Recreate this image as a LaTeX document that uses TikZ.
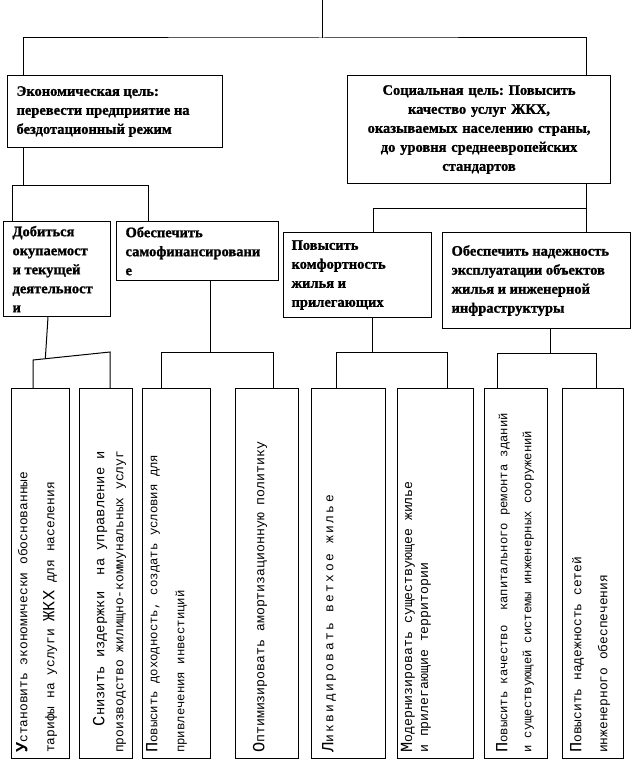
\documentclass[tikz,border=0pt]{standalone}
\usepackage{fontspec}
\setmainfont{Liberation Serif}[BoldFeatures={FakeBold=1.2}]
\newfontfamily\monofont{Liberation Mono}
\usetikzlibrary{calc, positioning}
\frenchspacing

\tikzset{
  goal/.style={draw, line width=1.1pt, anchor=north west, inner xsep=9pt, inner ysep=0pt,
    font=\fontsize{14.5}{19}\selectfont\bfseries, align=flush left},
  leaf/.style={draw, line width=1.1pt, anchor=north west, inner sep=0pt, minimum height=370pt},
  leaftext/.style 2 args={rotate=90, anchor=west, inner sep=0pt, align=left,
    font=\monofont\fontsize{#1}{#2}\selectfont},
  link/.style={line width=1pt},
}
\newcommand{\initl}[1]{{\fontsize{17}{17}\selectfont #1}}

\begin{document}
\begin{tikzpicture}[x=1pt, y=-1pt]
    \useasboundingbox (0,0) rectangle (633,762);

    % Цели верхнего уровня
    \node[goal, text width=197pt, minimum height=72pt] (econ) at (7,75)
        {Экономическая цель:\\перевести предприятие на\\бездотационный режим};
    \node[goal, text width=245pt, minimum height=108pt, align=center] (soc) at (347,75)
        {Социальная цель: Повысить\\качество услуг ЖКХ,\\оказываемых населению страны,\\до уровня среднеевропейских\\стандартов};

    % Задачи второго уровня
    \node[goal, text width=89pt, minimum height=95pt] (dob) at (3,221)
        {Добиться\\окупаемост\\и текущей\\деятельност\\и};
    \node[goal, text width=144pt, minimum height=59pt] (samo) at (116,221)
        {Обеспечить\\самофинансировани\\е};
    \node[goal, text width=132pt, minimum height=85pt, inner xsep=8pt] (kom) at (283,232)
        {Повысить\\комфортность\\жилья и\\прилегающих};
    \node[goal, text width=170pt, minimum height=96pt] (nad) at (442,232)
        {Обеспечить надежность\\эксплуатации объектов\\жилья и инженерной\\инфраструктуры\\[6pt]};

    % Мероприятия
    \node[leaf, minimum width=58pt] (c1) at (11,388) {};
    \node[leaf, minimum width=53pt] (c2) at (79,388) {};
    \node[leaf, minimum width=68pt] (c3) at (142,388) {};
    \node[leaf, minimum width=63pt] (c4) at (235,388) {};
    \node[leaf, minimum width=74pt] (c5) at (311,388) {};
    \node[leaf, minimum width=76pt] (c6) at (397,388) {};
    \node[leaf, minimum width=63pt] (c7) at (484,388) {};
    \node[leaf, minimum width=61pt] (c8) at (562,388) {};

    \node[leaftext={12.9}{27}] (t1) at (36.5,753)
        {{\bfseries\initl{У}}становить экономически обоснованные\\тарифы на услуги \initl{ЖКХ} для населения};
    \node[leaftext={12.9}{19}, align=right] (t2) at (109.5,753)
        {{\fontsize{13.8}{19}\selectfont\initl{С}низить издержки~ на управление и}\\производство жилищно-коммунальных услуг};
    \node[leaftext={12.3}{27}] (t3) at (166.5,753)
        {\initl{П}овысить доходность, создать условия для\\привлечения инвестиций};
    \node[leaftext={13.2}{19}] (t4) at (260,753)
        {\initl{О}птимизировать амортизационную политику};
    \node[leaftext={12.9}{19}] (t5) at (329,753)
        {\addfontfeature{LetterSpace=19}\initl{Л}иквидировать ветхое жилье};
    \node[leaftext={13.2}{16}] (t6) at (416,753)
        {\initl{М}одернизировать существующее жилье\\и прилегающие территории};
    \node[leaftext={12.2}{24}] (t7) at (515,753)
        {\initl{П}овысить качество~ капитального ремонта зданий\\и существующей системы инженерных сооружений};
    \node[leaftext={12.9}{26}] (t8) at (590,753)
        {\initl{П}овысить надежность сетей\\инженерного обеспечения};

    % Связи
    \coordinate (root) at (322,0);
    \draw[link] (root) -- ++(0,38) coordinate (j0);
    \draw[link] ([xshift=16pt]econ.north west) |- (j0) -| ([xshift=-25pt]soc.north east);

    \draw[link] ([xshift=16pt]econ.south west) -- ++(0,37) coordinate (j1);
    \draw[link] ([xshift=9pt]dob.north west) |- (j1) -| ([xshift=32pt]samo.north west);

    \draw[link] ([xshift=-25pt]soc.south east) -- ([xshift=-45pt]nad.north east);
    \path ([xshift=-25pt]soc.south east) ++(0,24) coordinate (j2);
    \draw[link] ([xshift=90pt]kom.north west) |- (j2);

    \coordinate (j3a) at (33,360);
    \coordinate (j3b) at (110,352);
    \draw[link] ([xshift=45pt]dob.south west) -- ($(j3a)!0.16!(j3b)$);
    \draw[link] (c1.north -| j3a) -- (j3a) -- (j3b) -- (c2.north -| j3b);

    \draw[link] ([xshift=94pt]samo.south west) -- ++(0,71) coordinate (j4);
    \draw[link] ([xshift=19pt]c3.north west) |- (j4) -| ([xshift=38pt]c4.north west);

    \draw[link] ([xshift=89pt]kom.south west) -- ++(0,34) coordinate (j5);
    \draw[link] ([xshift=25pt]c5.north west) |- (j5) -| ([xshift=50pt]c6.north west);

    \draw[link] ([xshift=108pt]nad.south west) -- ++(0,24) coordinate (j6);
    \draw[link] ([xshift=13pt]c7.north west) |- (j6) -| ([xshift=34pt]c8.north west);
\end{tikzpicture}
\end{document}
